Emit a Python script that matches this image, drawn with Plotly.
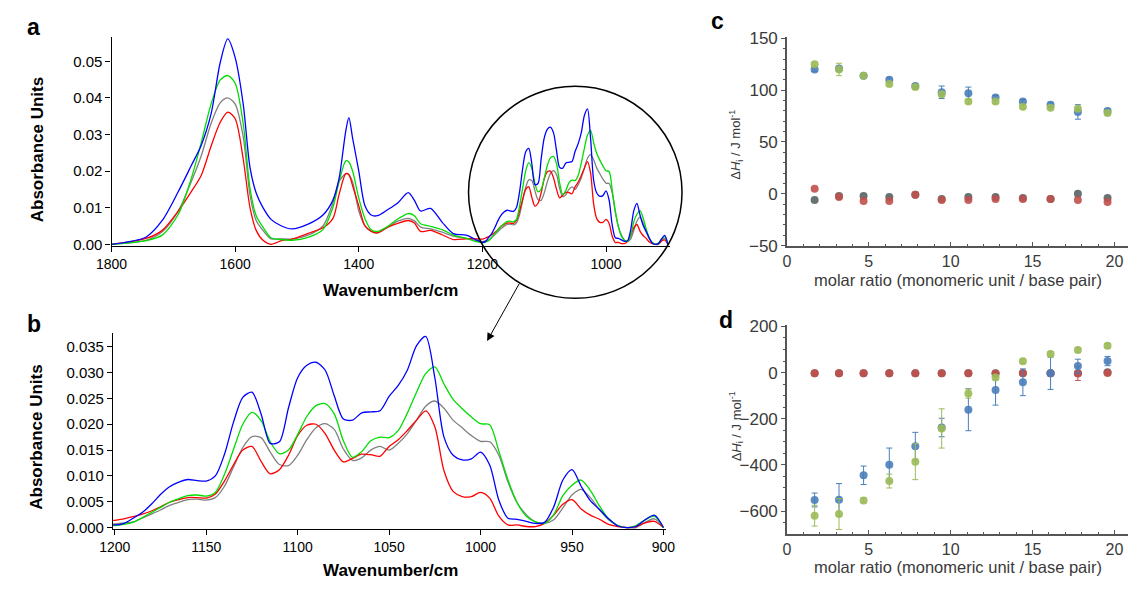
import plotly.graph_objects as go

# ---------------- FTIR spectra (wavenumber in cm^-1, absorbance units) ----------------
wavenumber = [1800, 1744, 1718, 1692, 1671, 1655, 1639, 1624, 1612, 1600,
              1587, 1576, 1566, 1555, 1542, 1525, 1508, 1482, 1458, 1442,
              1432, 1421, 1416, 1410, 1400, 1390, 1380, 1370, 1353, 1337,
              1320, 1310, 1300, 1284, 1265, 1247, 1226, 1210,
              1200, 1195, 1190, 1185, 1180, 1175, 1170, 1165, 1160, 1155,
              1150, 1145, 1140, 1135, 1130, 1125, 1120, 1115, 1110, 1105,
              1100, 1095, 1090, 1085, 1080, 1075, 1070, 1065, 1060, 1055,
              1050, 1045, 1040, 1035, 1030, 1025, 1020, 1015, 1010, 1005,
              1000, 995, 990, 985, 980, 975, 970, 965, 960, 955,
              950, 945, 940, 935, 930, 925, 920, 915, 910, 905, 900]

abs_blue = [0.0000, 0.0020, 0.0065, 0.0144, 0.0215, 0.0270, 0.0356, 0.0498, 0.0561, 0.0510,
            0.0383, 0.0210, 0.0140, 0.0100, 0.0068, 0.0050, 0.0042, 0.0055, 0.0080, 0.0120,
            0.0179, 0.0310, 0.0346, 0.0290, 0.0200, 0.0105, 0.0080, 0.0078, 0.0095, 0.0113,
            0.0141, 0.0120, 0.0091, 0.0098, 0.0060, 0.0029, 0.0025, 0.0012,
            0.0005, 0.0008, 0.0018, 0.0029, 0.0045, 0.0064, 0.0079, 0.0088, 0.0093, 0.0091,
            0.0090, 0.0100, 0.0142, 0.0205, 0.0252, 0.0262, 0.0220, 0.0163, 0.0166, 0.0232,
            0.0290, 0.0314, 0.0320, 0.0305, 0.0255, 0.0210, 0.0208, 0.0222, 0.0224, 0.0226,
            0.0254, 0.0275, 0.0305, 0.0352, 0.0370, 0.0290, 0.0175, 0.0140, 0.0131, 0.0133,
            0.0146, 0.0121, 0.0053, 0.0018, 0.0016, 0.0012, 0.0008, 0.0010, 0.0040, 0.0092,
            0.0112, 0.0080, 0.0052, 0.0035, 0.0017, 0.0003, 0.0000, 0.0002, 0.0015, 0.0024, 0.0000]

abs_green = [0.0000, 0.0010, 0.0025, 0.0082, 0.0180, 0.0277, 0.0383, 0.0449, 0.0461, 0.0440,
             0.0330, 0.0153, 0.0078, 0.0047, 0.0018, 0.0013, 0.0011, 0.0019, 0.0040, 0.0100,
             0.0170, 0.0228, 0.0225, 0.0200, 0.0126, 0.0070, 0.0040, 0.0035, 0.0049, 0.0069,
             0.0084, 0.0078, 0.0056, 0.0049, 0.0040, 0.0025, 0.0016, 0.0007,
             0.0004, 0.0006, 0.0010, 0.0019, 0.0029, 0.0039, 0.0049, 0.0056, 0.0062, 0.0063,
             0.0061, 0.0068, 0.0103, 0.0152, 0.0200, 0.0223, 0.0207, 0.0166, 0.0143, 0.0150,
             0.0180, 0.0215, 0.0236, 0.0240, 0.0220, 0.0168, 0.0136, 0.0147, 0.0168, 0.0175,
             0.0174, 0.0188, 0.0222, 0.0262, 0.0298, 0.0311, 0.0278, 0.0248, 0.0230, 0.0214,
             0.0201, 0.0199, 0.0148, 0.0092, 0.0048, 0.0022, 0.0011, 0.0008, 0.0025, 0.0062,
             0.0082, 0.0092, 0.0072, 0.0042, 0.0017, 0.0004, 0.0000, 0.0004, 0.0015, 0.0022, 0.0000]

abs_grey = [0.0000, 0.0011, 0.0034, 0.0091, 0.0171, 0.0241, 0.0330, 0.0387, 0.0400, 0.0383,
            0.0294, 0.0135, 0.0065, 0.0038, 0.0015, 0.0015, 0.0014, 0.0025, 0.0050, 0.0112,
            0.0171, 0.0193, 0.0190, 0.0170, 0.0091, 0.0050, 0.0035, 0.0031, 0.0047, 0.0063,
            0.0071, 0.0064, 0.0047, 0.0042, 0.0033, 0.0022, 0.0016, 0.0010,
            0.0007, 0.0009, 0.0011, 0.0018, 0.0026, 0.0034, 0.0043, 0.0049, 0.0054, 0.0055,
            0.0053, 0.0058, 0.0080, 0.0118, 0.0155, 0.0176, 0.0174, 0.0146, 0.0122, 0.0120,
            0.0140, 0.0170, 0.0193, 0.0201, 0.0190, 0.0152, 0.0130, 0.0135, 0.0150, 0.0157,
            0.0150, 0.0163, 0.0182, 0.0208, 0.0235, 0.0245, 0.0231, 0.0208, 0.0193, 0.0178,
            0.0167, 0.0166, 0.0140, 0.0088, 0.0048, 0.0025, 0.0011, 0.0008, 0.0015, 0.0038,
            0.0063, 0.0074, 0.0058, 0.0035, 0.0015, 0.0004, 0.0000, 0.0000, 0.0010, 0.0017, 0.0000]

abs_red = [0.0000, 0.0016, 0.0038, 0.0091, 0.0144, 0.0188, 0.0268, 0.0334, 0.0361, 0.0343,
           0.0233, 0.0100, 0.0038, 0.0011, 0.0000, 0.0010, 0.0014, 0.0030, 0.0045, 0.0070,
           0.0135, 0.0193, 0.0190, 0.0160, 0.0105, 0.0050, 0.0036, 0.0031, 0.0047, 0.0057,
           0.0065, 0.0058, 0.0035, 0.0038, 0.0026, 0.0013, 0.0015, 0.0015,
           0.0014, 0.0017, 0.0021, 0.0026, 0.0032, 0.0040, 0.0049, 0.0054, 0.0058, 0.0058,
           0.0057, 0.0065, 0.0090, 0.0122, 0.0150, 0.0157, 0.0128, 0.0104, 0.0112, 0.0140,
           0.0178, 0.0198, 0.0200, 0.0182, 0.0150, 0.0127, 0.0134, 0.0142, 0.0141, 0.0138,
           0.0157, 0.0170, 0.0188, 0.0208, 0.0226, 0.0195, 0.0110, 0.0070, 0.0060, 0.0060,
           0.0068, 0.0057, 0.0022, 0.0005, 0.0005, 0.0002, 0.0002, 0.0008, 0.0024, 0.0045,
           0.0054, 0.0036, 0.0024, 0.0016, 0.0006, 0.0002, 0.0000, 0.0002, 0.0009, 0.0012, 0.0000]

# ---------------- enthalpy data (panels c and d) ----------------
molar_ratio = [1.69, 3.18, 4.68, 6.25, 7.84, 9.45, 11.08, 12.74, 14.41, 16.10, 17.77, 19.58]

c_blue = [120, 121, 114, 110, 104, 98, 97, 93, 89, 86, 79, 80]
c_blue_err = [2, 2, 2, 2, 2, 6, 6, 2, 2, 2, 7, 2]
c_green = [125, 120, 114, 106, 103, 96, 89, 89, 84, 83, 82, 78]
c_green_err = [2, 6, 2, 2, 2, 2, 2, 2, 2, 2, 2, 2]
c_grey = [-6, -2, -2, -3, -1, -5, -3, -3, -4, -5, 0, -4]
c_red = [5, -3, -7, -7, -1, -6, -6, -5, -5, -5, -6, -8]

d_blue = [-552, -551, -445, -399, -319, -238, -161, -76, -42, -3, 28, 50]
d_blue_err = [30, 70, 40, 72, 60, 40, 91, 65, 58, 70, 30, 20]
d_green = [-620, -613, -554, -470, -386, -242, -91, -21, 49, 81, 98, 116]
d_green_err = [45, 67, 10, 30, 78, 85, 20, 10, 10, 10, 10, 10]
d_grey = [-3, -3, -3, -3, -3, -3, -3, -3, -3, -3, -3, 1]
d_red = [-3, -3, -3, -3, -3, -3, -3, -4, -2, -3, -4, -2]
d_red_err = [2, 2, 2, 2, 2, 2, 2, 2, 2, 2, 30, 2]

W, H = 1137, 590
FONT = "Arial, Liberation Sans, sans-serif"


def px(x):
    return x / W


def py(y):
    return 1 - y / H


fig = go.Figure()

spectra = [(abs_grey, "#808080"), (abs_red, "#ff0000"), (abs_green, "#00dd00"), (abs_blue, "#0000ff")]
for ys, col in spectra:
    for xa, ya in (("x", "y"), ("x2", "y2")):
        fig.add_trace(go.Scatter(x=wavenumber, y=ys, mode="lines", xaxis=xa, yaxis=ya,
                                 line=dict(color=col, width=1.3, shape="spline", smoothing=0.8),
                                 showlegend=False, hoverinfo="skip", cliponaxis=True))

BLUE_M = "#4a7ebb"
GREEN_M = "#9bbb59"
RED_M = "#c0504d"
GREY_M = "#566464"


def add_pts(xa, ya, ys, col, err=None):
    fig.add_trace(go.Scatter(
        x=molar_ratio, y=ys, mode="markers", xaxis=xa, yaxis=ya,
        marker=dict(color=col, size=8, opacity=0.9, line=dict(width=0)),
        error_y=(dict(type="data", array=err, visible=True, color=col, thickness=1, width=3)
                 if err is not None else None),
        showlegend=False, hoverinfo="skip"))


add_pts("x3", "y3", c_grey, GREY_M)
add_pts("x3", "y3", c_red, RED_M)
add_pts("x3", "y3", c_blue, BLUE_M, c_blue_err)
add_pts("x3", "y3", c_green, GREEN_M, c_green_err)

add_pts("x4", "y4", d_grey, GREY_M)
add_pts("x4", "y4", d_red, RED_M, d_red_err)
add_pts("x4", "y4", d_blue, BLUE_M, d_blue_err)
add_pts("x4", "y4", d_green, GREEN_M, d_green_err)

spec_x = dict(showline=True, linecolor="black", linewidth=1.3, ticks="outside", ticklen=5,
              tickcolor="black", showgrid=False, zeroline=False,
              tickfont=dict(family=FONT, size=14, color="black"))
spec_y = dict(spec_x, tickfont=dict(family=FONT, size=15, color="black"))
itc_x = dict(showline=True, linecolor="#555555", linewidth=1.5, ticks="inside", ticklen=4,
             tickcolor="#555555", showgrid=False, zeroline=False,
             tickfont=dict(family=FONT, size=16, color="#3a3a3a"),
             tickvals=[0, 5, 10, 15, 20], range=[0, 20.83],
             minor=dict(dtick=1, ticks="inside", ticklen=2, tickcolor="#555555"))
itc_y = dict(showline=True, linecolor="#555555", linewidth=1.5, ticks="outside", ticklen=4,
             tickcolor="#555555", showgrid=False, zeroline=False,
             tickfont=dict(family=FONT, size=17, color="#3a3a3a"))

fig.update_layout(
    width=W, height=H, autosize=False,
    margin=dict(l=0, r=0, t=0, b=0),
    paper_bgcolor="white", plot_bgcolor="rgba(0,0,0,0)",
    xaxis=dict(spec_x, domain=[px(97.7), px(669)], range=[1800, 896], anchor="y",
               tickvals=[1800, 1600, 1400, 1200, 1000]),
    yaxis=dict(spec_y, domain=[py(246.2), py(31)], range=[-0.0005, 0.0566], anchor="x",
               tickvals=[0, 0.01, 0.02, 0.03, 0.04, 0.05], tickformat=".2f"),
    xaxis2=dict(spec_x, domain=[px(99.3), px(665)], range=[1200.9, 898.4], anchor="y2",
                tickvals=[1200, 1150, 1100, 1050, 1000, 950, 900]),
    yaxis2=dict(spec_y, domain=[py(537.7), py(336)], range=[-0.00032, 0.0376], anchor="x2",
                tickvals=[0, 0.005, 0.01, 0.015, 0.02, 0.025, 0.03, 0.035], tickformat=".3f"),
    xaxis3=dict(itc_x, domain=[px(788.3), 1.0], anchor="y3"),
    yaxis3=dict(itc_y, domain=[py(245.7), py(30.7)], range=[-50, 151.5], anchor="x3",
                tickvals=[-50, 0, 50, 100, 150],
                minor=dict(dtick=10, ticks="outside", ticklen=2, tickcolor="#555555")),
    xaxis4=dict(itc_x, domain=[px(788.3), 1.0], anchor="y4"),
    yaxis4=dict(itc_y, domain=[py(542.3), py(327)], range=[-698, 208], anchor="x4",
                tickvals=[-600, -400, -200, 0, 200],
                minor=dict(dtick=50, ticks="outside", ticklen=2, tickcolor="#555555")),
)

ann = []


def txt(x, y, s, size, bold=False, angle=0, color="black"):
    ann.append(dict(x=px(x), y=py(y), xref="paper", yref="paper", text=(f"<b>{s}</b>" if bold else s),
                    showarrow=False, textangle=angle, xanchor="center", yanchor="middle",
                    font=dict(family=FONT, size=size, color=color)))


txt(18, 21, "a", 23, bold=True)
txt(18, 326, "b", 23, bold=True)
txt(717, 14, "c", 23, bold=True)
txt(726, 322, "d", 23, bold=True)
txt(22, 147, "Absorbance Units", 17, bold=True, angle=-90)
txt(21, 443, "Absorbance Units", 17, bold=True, angle=-90)
txt(383, 292, "Wavenumber/cm", 17, bold=True)
txt(383, 580, "Wavenumber/cm", 17, bold=True)
txt(963, 281, "molar ratio (monomeric unit / base pair)", 16.5, color="#3a3a3a")
txt(963, 577, "molar ratio (monomeric unit / base pair)", 16.5, color="#3a3a3a")
txt(736, 142, "Δ<i>H</i><sub>i</sub> / J mol<sup>-1</sup>", 13, angle=-90, color="#3a3a3a")
txt(736, 432, "Δ<i>H</i><sub>i</sub> / J mol<sup>-1</sup>", 13, angle=-90, color="#3a3a3a")

ann.append(dict(x=px(481.7), y=py(344), xref="paper", yref="paper", text="", showarrow=True,
                ax=33, ay=-59, axref="pixel", ayref="pixel", arrowhead=2, arrowsize=1.6,
                arrowwidth=1, arrowcolor="black"))

fig.update_layout(annotations=ann)
fig.add_shape(type="circle", xref="paper", yref="paper",
              x0=px(462.7), x1=px(681), y0=py(300), y1=py(81.7),
              line=dict(color="black", width=1.5))

fig.write_html("out.html", config={"displayModeBar": False},
               post_script="document.body.style.margin='0px';document.body.style.overflow='hidden';")
